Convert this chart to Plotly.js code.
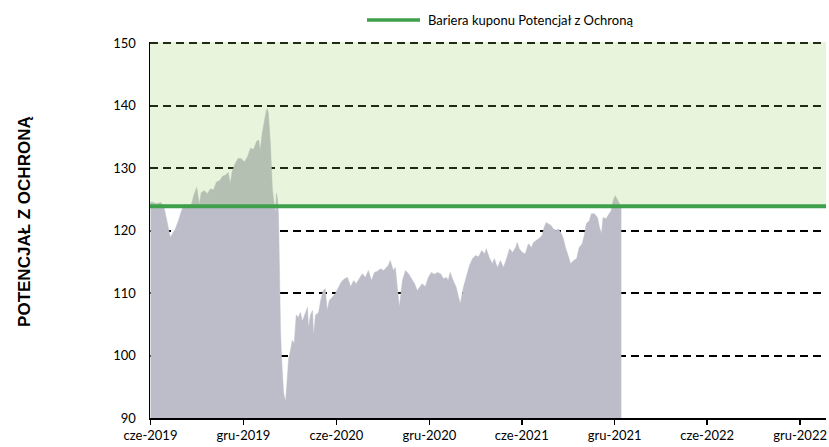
<!DOCTYPE html>
<html>
<head>
<meta charset="utf-8">
<script src="https://cdn.plot.ly/plotly-3.0.1.min.js"></script>
<style>html,body{margin:0;padding:0;background:#fff;}#chart{width:829px;height:447px;}</style>
</head>
<body>
<div id="chart"></div>
<script>
const dates = ['2019-06-01','2019-06-03','2019-06-13','2019-06-21','2019-06-27','2019-07-02','2019-07-06','2019-07-10','2019-07-14','2019-07-20','2019-07-26','2019-08-01','2019-08-07','2019-08-15','2019-08-21','2019-08-25','2019-08-31','2019-09-05','2019-09-09','2019-09-15','2019-09-21','2019-09-27','2019-10-03','2019-10-09','2019-10-15','2019-10-21','2019-10-27','2019-11-01','2019-11-05','2019-11-09','2019-11-15','2019-11-21','2019-11-27','2019-12-03','2019-12-09','2019-12-15','2019-12-21','2019-12-27','2019-12-31','2020-01-03','2020-01-07','2020-01-11','2020-01-15','2020-01-17','2020-01-19','2020-01-23','2020-01-27','2020-01-31','2020-02-02','2020-02-04','2020-02-06','2020-02-08','2020-02-10','2020-02-12','2020-02-14','2020-02-18','2020-02-22','2020-02-24','2020-02-28','2020-03-03','2020-03-06','2020-03-10','2020-03-14','2020-03-18','2020-03-22','2020-03-26','2020-03-30','2020-04-05','2020-04-07','2020-04-11','2020-04-15','2020-04-17','2020-04-21','2020-04-27','2020-05-01','2020-05-06','2020-05-10','2020-05-14','2020-05-18','2020-05-24','2020-05-30','2020-06-05','2020-06-11','2020-06-17','2020-06-23','2020-06-29','2020-07-05','2020-07-10','2020-07-16','2020-07-22','2020-07-28','2020-08-03','2020-08-09','2020-08-15','2020-08-21','2020-08-27','2020-09-02','2020-09-07','2020-09-11','2020-09-15','2020-09-21','2020-09-25','2020-09-29','2020-10-03','2020-10-09','2020-10-15','2020-10-21','2020-10-27','2020-11-02','2020-11-07','2020-11-11','2020-11-17','2020-11-23','2020-11-29','2020-12-05','2020-12-11','2020-12-17','2020-12-23','2020-12-29','2021-01-04','2021-01-07','2021-01-11','2021-01-17','2021-01-23','2021-01-27','2021-01-31','2021-02-06','2021-02-12','2021-02-18','2021-02-24','2021-03-02','2021-03-08','2021-03-14','2021-03-20','2021-03-23','2021-03-29','2021-04-04','2021-04-08','2021-04-14','2021-04-20','2021-04-26','2021-05-02','2021-05-08','2021-05-14','2021-05-20','2021-05-23','2021-05-27','2021-06-02','2021-06-08','2021-06-14','2021-06-20','2021-06-24','2021-06-30','2021-07-06','2021-07-11','2021-07-15','2021-07-19','2021-07-25','2021-07-29','2021-08-02','2021-08-08','2021-08-12','2021-08-18','2021-08-22','2021-08-26','2021-09-01','2021-09-05','2021-09-11','2021-09-17','2021-09-22','2021-09-28','2021-10-02','2021-10-06','2021-10-12','2021-10-16','2021-10-22','2021-10-28','2021-11-01','2021-11-05','2021-11-08','2021-11-14','2021-11-20','2021-11-24','2021-11-28','2021-12-02','2021-12-06','2021-12-10','2021-12-14'];
const values = [124.5,124.6,124.3,124.5,124.0,122.0,120.0,118.9,119.5,120.3,121.6,123.2,124.2,124.0,124.3,125.6,126.9,124.2,126.1,126.4,125.9,126.7,126.5,127.8,128.0,128.7,128.9,129.3,127.5,129.5,130.8,131.6,131.5,131.0,131.8,133.2,133.0,134.3,134.5,132.8,135.6,137.5,139.2,139.5,138.8,134.0,126.5,124.0,122.8,126.0,125.0,122.5,112.0,104.0,99.7,94.0,92.6,95.0,99.5,101.0,102.4,102.0,106.5,106.1,106.9,105.5,106.4,107.7,104.5,106.5,107.2,103.2,106.5,106.9,108.8,110.4,110.7,107.2,108.8,109.3,109.9,110.9,111.8,112.3,112.5,111.0,112.0,111.5,112.3,113.1,112.5,113.6,112.0,113.3,113.5,113.9,113.6,114.0,114.4,115.2,113.6,114.1,110.9,107.7,112.0,113.6,113.1,112.3,111.5,110.4,110.9,111.5,111.0,112.5,113.3,113.0,113.3,113.1,112.3,112.5,112.0,113.3,112.0,110.9,109.5,108.3,110.9,112.5,114.4,115.5,116.0,115.8,116.8,116.3,117.1,115.7,114.7,115.5,114.1,115.2,114.1,115.5,117.1,116.5,117.3,118.1,117.1,116.5,116.3,117.9,117.3,118.1,118.4,118.8,119.2,120.5,121.3,121.0,120.8,120.3,120.0,120.3,119.5,118.7,117.3,115.8,114.7,115.2,115.5,117.3,117.9,119.2,121.1,121.6,122.7,122.7,122.1,120.5,119.5,122.1,121.9,122.7,123.2,124.8,125.6,125.0,124.3,123.7];
const barrier = 123.9;
const barrierName = 'Bariera kuponu Potencjał z Ochroną';
const yAxisTitle = 'POTENCJAŁ Z OCHRONĄ';
const yMin = 90, yMax = 150;
const tickDates = ['2019-06-01','2019-12-01','2020-06-01','2020-12-01','2021-06-01','2021-12-01','2022-06-01','2022-12-01'];
const tickLabels = ['cze-2019','gru-2019','cze-2020','gru-2020','cze-2021','gru-2021','cze-2022','gru-2022'];
const xRange = ['2019-05-31','2023-01-21'];

const traces = [{
  x: dates, y: values, type: 'scatter', mode: 'lines',
  fill: 'tozeroy', fillcolor: '#BDBDC9',
  line: {color: '#BDBDC9', width: 0.5},
  showlegend: false, hoverinfo: 'skip'
}];

const layout = {
  width: 829, height: 447,
  margin: {l: 150, r: 3, t: 42, b: 29},
  paper_bgcolor: '#ffffff', plot_bgcolor: '#ffffff',
  showlegend: false,
  font: {family: 'Lato, "Open Sans", sans-serif', size: 13, color: '#000'},
  xaxis: {
    type: 'date', range: xRange,
    tickvals: tickDates, ticktext: tickLabels,
    showgrid: false, zeroline: false,
    showline: true, linecolor: '#000', linewidth: 1.5,
    ticks: 'outside', ticklen: 5, tickwidth: 1.5, tickcolor: '#000',
    tickfont: {family: 'Lato, "Open Sans", sans-serif', size: 13, color: '#000'}
  },
  yaxis: {
    range: [yMin, yMax + 0.2], dtick: 10, tick0: 90,
    showgrid: true, gridcolor: '#000', gridwidth: 2, griddash: '8px,5px',
    zeroline: false, showline: true, linecolor: '#000', linewidth: 1.5,
    ticks: '', ticklabelstandoff: 10,
    tickfont: {family: 'Lato, "Open Sans", sans-serif', size: 13, color: '#000'}
  },
  shapes: [
    {type: 'rect', xref: 'paper', x0: 0, x1: 1, yref: 'y', y0: barrier, y1: yMax + 0.2,
     fillcolor: 'rgba(145,202,88,0.21)', line: {width: 0}, layer: 'above'},
    {type: 'line', xref: 'paper', x0: 0, x1: 1, yref: 'y', y0: barrier, y1: barrier,
     line: {color: '#3FA04B', width: 4}, layer: 'above'},
    {type: 'line', xref: 'paper', yref: 'paper', x0: 0.321, x1: 0.3994, y0: 1.0585, y1: 1.0585,
     line: {color: '#3FA04B', width: 3.5}}
  ],
  annotations: [
    {xref: 'paper', yref: 'paper', x: 0.408, y: 1.0585, xanchor: 'left', yanchor: 'middle',
     text: barrierName, showarrow: false,
     font: {family: 'Lato, "Open Sans", sans-serif', size: 13, color: '#000'}},
    {xref: 'paper', yref: 'paper', x: -0.185, y: 0.524, xanchor: 'center', yanchor: 'middle',
     text: yAxisTitle, textangle: -90, showarrow: false,
     font: {family: '"Liberation Sans", Arial, sans-serif', size: 17, color: '#000', weight: 'bold'}}
  ]
};

Plotly.newPlot('chart', traces, layout, {displayModeBar: false, staticPlot: true});
</script>
</body>
</html>
